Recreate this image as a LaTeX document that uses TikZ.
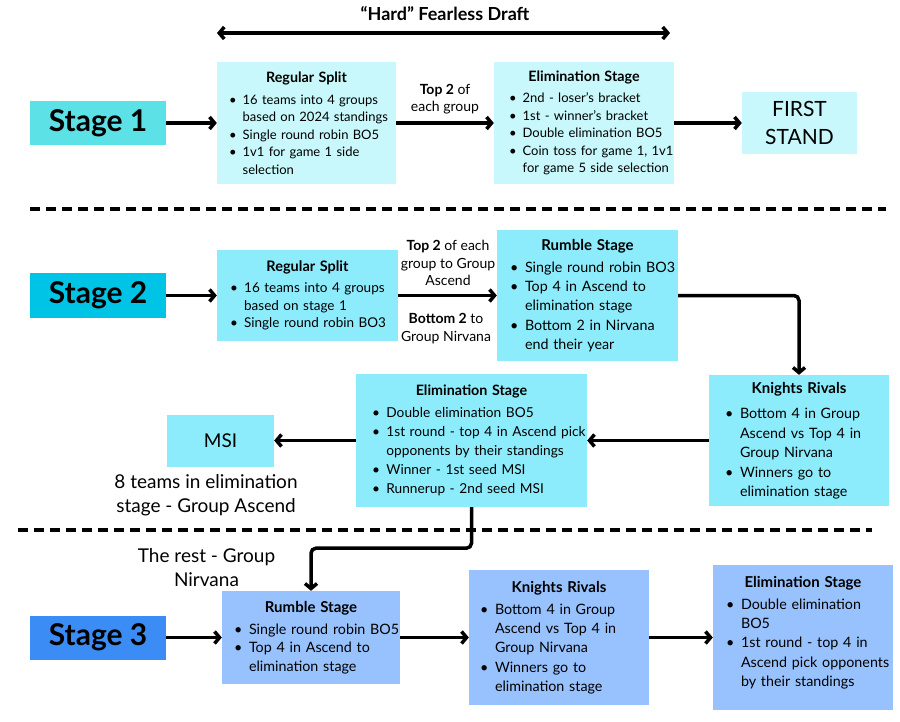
\documentclass[tikz,border=0pt]{standalone}
\usepackage{fontspec}
\setmainfont{Lato}
\usetikzlibrary{arrows.meta}
\definecolor{oneDark}{HTML}{5CE1E6}
\definecolor{oneLight}{HTML}{C8F8FB}
\definecolor{twoDark}{HTML}{00C4E6}
\definecolor{twoLight}{HTML}{8DECFC}
\definecolor{threeDark}{HTML}{3C8CF5}
\definecolor{threeLight}{HTML}{98C2FD}
\newcommand{\hd}[2][15]{{\centering\fontsize{#1}{#1}\selectfont\bfseries #2\par}\vspace{3pt}}
\newcommand{\itm}[1]{\par{\leftskip=1.05em\rightskip=-40pt plus 1fil\noindent\llap{\hbox to 1.05em{\textbullet\hfil}}#1\par}}
\begin{document}
\begin{tikzpicture}[x=1pt,y=-1pt,
	barb/.tip={Straight Barb[length=5pt,width=12pt]},
	stagebox/.style={minimum width=136pt,minimum height=44pt,inner sep=0pt,font=\fontsize{30}{34}\selectfont\bfseries},
	card/.style={inner ysep=0pt,align=left,font=\fontsize{14.3}{19.2}\selectfont},
	small/.style={font=\fontsize{13}{17.5}\selectfont},
	plain/.style={inner sep=0pt,align=center,font=\fontsize{14}{17.5}\selectfont},
	note/.style={plain,font=\fontsize{19}{24}\selectfont},
	flow/.style={line width=3.5pt,-barb},
	sep/.style={line width=4pt,dash pattern=on 10pt off 6pt}]
	\fill[white] (0,0) rectangle (900,721);
	\useasboundingbox (0,0) rectangle (900,721);
	
	\node[plain,font=\fontsize{18}{22}\selectfont\bfseries] (title) at (445,14) {“Hard” Fearless Draft};
	\coordinate (fdl) at (217,33);
	\coordinate (fdr) at (670,33);
	\draw[flow,barb-barb] (fdl) -- (fdr);
	
	\node[stagebox,fill=oneDark] (st1) at (98,123) {Stage 1};
	\node[card,small,fill=oneLight,inner xsep=12pt,text width=155pt,minimum height=122pt] (rs1) at (306.5,123) {\hd[14.3]{Regular Split}\vspace{1pt}
		\itm{16 teams into 4 groups\\based on 2024 standings}
		\itm{Single round robin BO5}
		\itm{1v1 for game 1 side\\selection}};
	\node[card,small,fill=oneLight,inner xsep=15pt,text width=150pt,minimum height=122pt] (el1) at (584,123) {\hd[14.3]{Elimination Stage}\vspace{1pt}
		\itm{2nd - loser’s bracket}
		\itm{1st - winner’s bracket}
		\itm{Double elimination BO5}
		\itm{Coin toss for game 1, 1v1\\for game 5 side selection}};
	\node[plain,fill=oneLight,minimum width=115pt,minimum height=62pt,font=\fontsize{21}{28}\selectfont] (fs) at (799.5,123) {FIRST\\STAND};
	\node[plain] (lab1) at (445,99) {\textbf{Top 2} of\\each group};
	\draw[flow] (st1) -- (rs1);
	\draw[flow] (rs1) -- (el1);
	\draw[flow] (el1) -- (fs);
	
	\foreach \y/\a/\b in {209/30/886,530/18/872}
	\draw[sep] (\a,\y) -- (\b,\y);
	
	\node[stagebox,fill=twoDark,minimum height=45pt] (st2) at (98,295.5) {Stage 2};
	\node[card,fill=twoLight,inner xsep=13pt,text width=155pt,minimum height=91pt,font=\fontsize{13.5}{17.7}\selectfont] (rs2) at (307.5,295.5) {\hd[14.5]{Regular Split}
		\itm{16 teams into 4 groups\\based on stage 1}
		\itm{Single round robin BO3}};
	\node[card,fill=twoLight,inner xsep=13pt,text width=155pt,minimum height=131pt] (rb2) at (587.5,295.5) {\hd{Rumble Stage}
		\itm{Single round robin BO3}
		\itm{Top 4 in Ascend to\\elimination stage}
		\itm{Bottom 2 in Nirvana\\end their year}};
	\node[card,fill=twoLight,inner xsep=16pt,text width=148pt,minimum height=131pt,font=\fontsize{14.3}{19.5}\selectfont] (kr2) at (799,440.5) {\hd{Knights Rivals}\vspace{3pt}
		\itm{Bottom 4 in Group\\Ascend vs Top 4 in\\Group Nirvana}
		\itm{Winners go to\\elimination stage}};
	\node[card,fill=twoLight,inner xsep=16pt,text width=199pt,minimum height=133pt,font=\fontsize{13.7}{19}\selectfont] (el2) at (471.5,440.5) {\hd[14.3]{Elimination Stage}
		\itm{Double elimination BO5}
		\itm{1st round - top 4 in Ascend pick\\opponents by their standings}
		\itm{Winner - 1st seed MSI}
		\itm{Runnerup - 2nd seed MSI}};
	\node[plain,fill=twoLight,minimum width=107pt,minimum height=52pt,font=\fontsize{19}{24}\selectfont] (msi) at (220.5,440.5) {MSI};
	\node[plain] (lab2a) at (448,263) {\textbf{Top 2} of each\\group to Group\\Ascend};
	\node[plain] (lab2b) at (446,328.5) {\textbf{Bottom 2} to\\Group Nirvana};
	\node[note] (note1) at (206,495) {8 teams in elimination\\stage - Group Ascend};
	\node[note] (note2) at (206.5,568) {The rest - Group\\Nirvana};
	\draw[flow] (st2) -- (rs2);
	\draw[flow] (rs2) -- (rb2);
	\draw[flow,rounded corners=5pt] (rb2.east) -| (kr2.north);
	\draw[flow] (kr2) -- (el2);
	\draw[flow] (el2) -- (msi);
	
	\node[stagebox,fill=threeDark] (st3) at (98,637.5) {Stage 3};
	\node[card,fill=threeLight,inner xsep=12pt,text width=154pt,minimum height=93pt,font=\fontsize{14.3}{18.5}\selectfont] (rb3) at (311,637.5) {\hd{Rumble Stage}
		\itm{Single round robin BO5}
		\itm{Top 4 in Ascend to\\elimination stage}};
	\node[card,fill=threeLight,inner xsep=11pt,text width=158pt,minimum height=135pt] (kr3) at (559,637.5) {\hd{Knights Rivals}
		\itm{Bottom 4 in Group\\Ascend vs Top 4 in\\Group Nirvana}
		\itm{Winners go to\\elimination stage}};
	\node[card,fill=threeLight,inner xsep=13pt,text width=154pt,minimum height=145pt] (el3) at (803,637.5) {\hd{Elimination Stage}
		\itm{Double elimination\\BO5}
		\itm{1st round - top 4 in\\Ascend pick opponents\\by their standings}\kern10pt\nointerlineskip\hbox{}};
	\draw[flow,rounded corners=5pt] (el2.south) -- ++(0,41) -| (rb3.north);
	\draw[flow] (st3) -- (rb3);
	\draw[flow] (rb3) -- (kr3);
	\draw[flow] (kr3) -- (el3);
\end{tikzpicture}
\end{document}
